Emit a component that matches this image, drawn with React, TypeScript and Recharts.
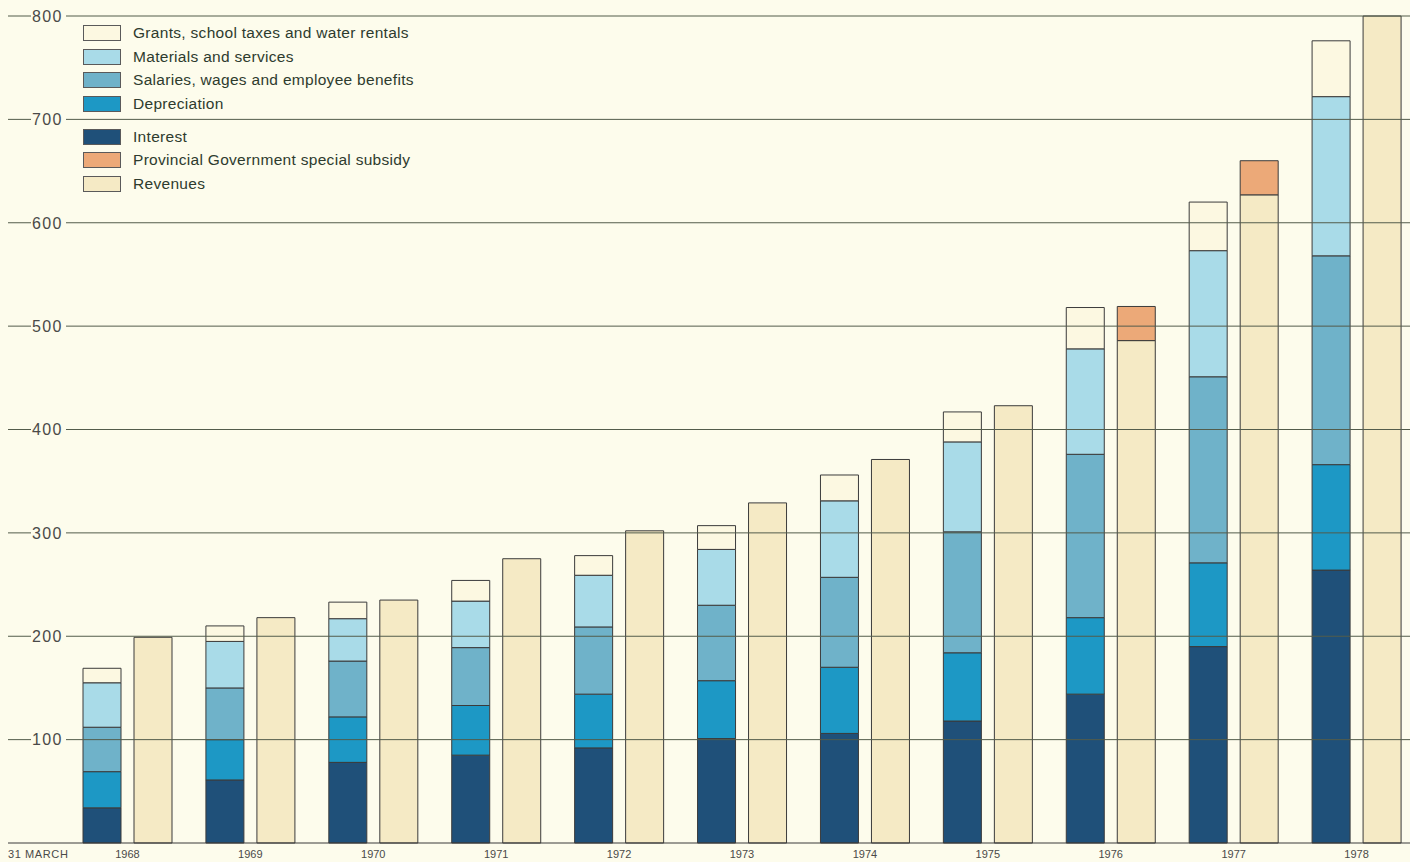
import { BarChart, Bar, XAxis, YAxis, Legend, ReferenceLine } from 'recharts';

const years = ['1968', '1969', '1970', '1971', '1972', '1973', '1974', '1975', '1976', '1977', '1978'];

// expenditure, stacked from the bottom up
const interest = [34, 61, 78, 85, 92, 101, 106, 118, 144, 190, 264];
const depreciation = [35, 39, 44, 48, 52, 56, 64, 66, 74, 81, 102];
const salaries = [43, 50, 54, 56, 65, 73, 87, 117, 158, 180, 202];
const materials = [43, 45, 41, 45, 50, 54, 74, 87, 102, 122, 154];
const grants = [14, 15, 16, 20, 19, 23, 25, 29, 40, 47, 54];

// income side
const revenues = [199, 218, 235, 275, 302, 329, 371, 423, 486, 627, 800];
const subsidy = [0, 0, 0, 0, 0, 0, 0, 0, 33, 33, 0];

const yTicks = [0, 100, 200, 300, 400, 500, 600, 700, 800];

const data = years.map((year, i) => ({
  year,
  interest: interest[i],
  depreciation: depreciation[i],
  salaries: salaries[i],
  materials: materials[i],
  grants: grants[i],
  revenues: revenues[i],
  subsidy: subsidy[i],
}));

const COLORS = {
  grants: '#fcf8e1',
  materials: '#a9dbe8',
  salaries: '#6fb2c9',
  depreciation: '#1d98c5',
  interest: '#1f5079',
  subsidy: '#eca978',
  revenues: '#f5eac5',
};

const legendRows = [
  { key: 'grants', label: 'Grants, school taxes and water rentals' },
  { key: 'materials', label: 'Materials and services' },
  { key: 'salaries', label: 'Salaries, wages and employee benefits' },
  { key: 'depreciation', label: 'Depreciation' },
  { key: 'interest', label: 'Interest' },
  { key: 'subsidy', label: 'Provincial Government special subsidy' },
  { key: 'revenues', label: 'Revenues' },
];

const FONT = '"Liberation Sans", Arial, sans-serif';
const BG = '#fdfcec';
const INK = '#4a4a48';
const GRID = '#535c4b';
const EDGE = '#3b3b3b';

function renderLegend() {
  return (
    <div style={{ fontFamily: FONT, fontSize: 15.5, letterSpacing: 0.3, color: '#2e3b2e' }}>
      {legendRows.map((row) => (
        <div
          key={row.key}
          style={{
            display: 'flex',
            alignItems: 'center',
            height: 23.8,
            marginTop: row.key === 'interest' ? 8.5 : 0,
          }}
        >
          <span
            style={{
              width: 36,
              height: 14,
              border: '1px solid #5a5a5a',
              background: COLORS[row.key as keyof typeof COLORS],
              marginRight: 12,
              flexShrink: 0,
            }}
          />
          <span>{row.label}</span>
        </div>
      ))}
    </div>
  );
}

function ValueTick(props: any) {
  const { y, payload } = props;
  if (payload.value === 0) {
    return (
      <g>
        <line x1={8} x2={66} y1={y} y2={y} stroke={EDGE} strokeWidth={1} />
        <text x={8} y={y + 15} fontFamily={FONT} fontSize={11} letterSpacing={0.6} fill={INK}>
          31 MARCH
        </text>
      </g>
    );
  }
  return (
    <g>
      <line x1={8} x2={31} y1={y} y2={y} stroke={GRID} strokeWidth={1} />
      <text x={32} y={y} dy="0.36em" fontFamily={FONT} fontSize={16} letterSpacing={1.4} fill={INK}>
        {payload.value}
      </text>
    </g>
  );
}

function YearTick(props: any) {
  const { x, y, payload } = props;
  return (
    <text x={x} y={y} dy="0.71em" textAnchor="middle" fontFamily={FONT} fontSize={11} fill={INK}>
      {payload.value}
    </text>
  );
}

export default function App() {
  return (
    <div
      style={{
        position: 'absolute',
        left: 0,
        top: 0,
        width: 1410,
        height: 862,
        overflow: 'hidden',
        background: BG,
      }}
    >
      <BarChart
        width={1420}
        height={862}
        data={data}
        margin={{ top: 16, right: 2, left: 0, bottom: 0 }}
        barSize={38}
        barGap={13}
      >
        <XAxis
          dataKey="year"
          height={19}
          interval={0}
          tickLine={false}
          tickSize={0}
          tickMargin={7}
          axisLine={{ stroke: EDGE, strokeWidth: 1 }}
          tick={<YearTick />}
        />
        <YAxis
          width={66}
          domain={[0, 800]}
          ticks={yTicks}
          interval={0}
          axisLine={false}
          tickLine={false}
          tick={<ValueTick />}
        />
        <Legend
          layout="vertical"
          align="center"
          verticalAlign="middle"
          wrapperStyle={{ left: 83, top: 21, width: 400 }}
          content={renderLegend}
        />
        <Bar dataKey="interest" stackId="spent" fill={COLORS.interest} stroke={EDGE} strokeWidth={1} isAnimationActive={false} />
        <Bar dataKey="depreciation" stackId="spent" fill={COLORS.depreciation} stroke={EDGE} strokeWidth={1} isAnimationActive={false} />
        <Bar dataKey="salaries" stackId="spent" fill={COLORS.salaries} stroke={EDGE} strokeWidth={1} isAnimationActive={false} />
        <Bar dataKey="materials" stackId="spent" fill={COLORS.materials} stroke={EDGE} strokeWidth={1} isAnimationActive={false} />
        <Bar dataKey="grants" stackId="spent" fill={COLORS.grants} stroke={EDGE} strokeWidth={1} isAnimationActive={false} />
        <Bar dataKey="revenues" stackId="earned" fill={COLORS.revenues} stroke={EDGE} strokeWidth={1} isAnimationActive={false} />
        <Bar dataKey="subsidy" stackId="earned" fill={COLORS.subsidy} stroke={EDGE} strokeWidth={1} isAnimationActive={false} />
        {yTicks.slice(1).map((v) => (
          <ReferenceLine key={v} y={v} stroke={GRID} strokeWidth={1} />
        ))}
      </BarChart>
    </div>
  );
}
